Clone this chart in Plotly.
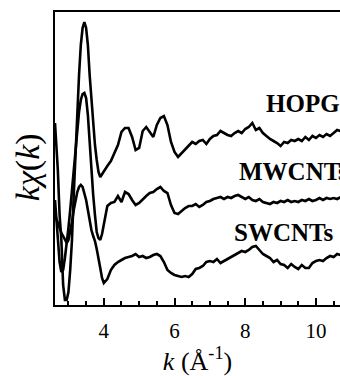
import plotly.graph_objects as go

# wavenumber grid (Å^-1)
k = [2.62, 2.65, 2.70, 2.75, 2.80, 2.85, 2.90, 2.95, 3.00, 3.05, 3.10, 3.15, 3.20, 3.25,
     3.30, 3.35, 3.40, 3.45, 3.50, 3.55, 3.60, 3.65, 3.70, 3.75, 3.80, 3.85, 3.90, 3.95, 4.00,
     4.1, 4.2, 4.3, 4.4, 4.5, 4.6, 4.7, 4.8, 4.9, 5.0, 5.1, 5.2, 5.3, 5.4, 5.5, 5.6, 5.7,
     5.8, 5.9, 6.0, 6.1, 6.2, 6.3, 6.4, 6.5, 6.6, 6.7, 6.8, 6.9, 7.0, 7.1, 7.2, 7.3, 7.4,
     7.5, 7.6, 7.7, 7.8, 7.9, 8.0, 8.1, 8.2, 8.3, 8.4, 8.5, 8.6, 8.7, 8.8, 8.9, 9.0, 9.1,
     9.2, 9.3, 9.4, 9.5, 9.6, 9.7, 9.8, 9.9, 10.0, 10.1, 10.2, 10.3, 10.4, 10.5, 10.6, 10.7]

# k*chi(k), vertically offset (arbitrary units)
hopg = [1.82, 1.65, 1.35, 0.90, 0.65, 0.20, 0.05, 0.05, 0.13, 0.35, 0.65, 1.10, 1.45, 1.90,
        2.30, 2.60, 2.77, 2.83, 2.77, 2.60, 2.30, 2.05, 1.85, 1.60, 1.45, 1.33, 1.28, 1.31, 1.34,
        1.39, 1.44, 1.52, 1.60, 1.73, 1.77, 1.77, 1.68, 1.55, 1.57, 1.74, 1.78, 1.73, 1.68,
        1.80, 1.87, 1.89, 1.80, 1.63, 1.53, 1.48, 1.52, 1.55, 1.59, 1.63, 1.61, 1.64, 1.65,
        1.61, 1.66, 1.69, 1.70, 1.74, 1.72, 1.70, 1.69, 1.72, 1.74, 1.72, 1.76, 1.78, 1.82,
        1.75, 1.77, 1.72, 1.69, 1.66, 1.64, 1.62, 1.59, 1.63, 1.62, 1.65, 1.64, 1.66, 1.64,
        1.68, 1.65, 1.69, 1.67, 1.70, 1.68, 1.71, 1.69, 1.72, 1.75, 1.74]

mwcnt = [1.05, 0.90, 0.65, 0.43, 0.33, 0.35, 0.47, 0.60, 0.77, 0.95, 1.15, 1.37, 1.55, 1.75,
         1.93, 2.05, 2.11, 2.12, 2.07, 1.90, 1.60, 1.33, 1.10, 0.90, 0.73, 0.67, 0.65, 0.71, 0.80,
         0.99, 1.02, 1.03, 1.09, 1.03, 1.13, 1.11, 1.05, 1.00, 1.02, 1.06, 1.09, 1.12, 1.13,
         1.16, 1.18, 1.14, 1.12, 1.00, 0.92, 0.91, 0.94, 0.97, 0.99, 0.99, 1.01, 0.98, 1.00,
         1.03, 1.04, 1.06, 1.07, 1.08, 1.06, 1.08, 1.07, 1.09, 1.10, 1.08, 1.06, 1.08, 1.05,
         1.04, 1.06, 1.03, 1.02, 1.01, 1.03, 1.02, 1.04, 1.03, 1.05, 1.03, 1.04, 1.03, 1.05,
         1.04, 1.06, 1.04, 1.05, 1.07, 1.05, 1.07, 1.06, 1.07, 1.06, 1.08]

swcnt = [0.90, 0.87, 0.80, 0.75, 0.72, 0.69, 0.65, 0.62, 0.65, 0.73, 0.83, 0.95, 1.05, 1.13,
         1.18, 1.20, 1.18, 1.12, 1.05, 0.95, 0.83, 0.75, 0.69, 0.64, 0.56, 0.48, 0.37, 0.27, 0.22,
         0.26, 0.35, 0.40, 0.43, 0.45, 0.47, 0.48, 0.49, 0.51, 0.48, 0.49, 0.47, 0.48, 0.50,
         0.51, 0.49, 0.43, 0.35, 0.32, 0.30, 0.29, 0.28, 0.29, 0.28, 0.31, 0.36, 0.37, 0.39,
         0.43, 0.44, 0.43, 0.46, 0.42, 0.44, 0.46, 0.48, 0.50, 0.52, 0.54, 0.53, 0.55, 0.58,
         0.59, 0.55, 0.51, 0.49, 0.47, 0.43, 0.45, 0.41, 0.40, 0.37, 0.41, 0.38, 0.36, 0.40,
         0.37, 0.37, 0.42, 0.44, 0.45, 0.44, 0.47, 0.49, 0.48, 0.51, 0.50]

labels = ["HOPG", "MWCNTs", "SWCNTs"]
label_k = [8.54, 7.78, 7.63]
label_y = [2.02, 1.34, 0.73]
xtick_vals = [4, 6, 8, 10]

SERIF = "Liberation Serif, Times New Roman, serif"

fig = go.Figure()
for name, ys in zip(labels, [hopg, mwcnt, swcnt]):
    fig.add_trace(go.Scatter(x=k, y=ys, mode="lines", name=name,
                             line=dict(color="black", width=2.6), showlegend=False))

for name, lk, ly in zip(labels, label_k, label_y):
    fig.add_annotation(x=lk, y=ly, xref="x", yref="y", text="<b>%s</b>" % name,
                       showarrow=False, xanchor="left", yanchor="middle",
                       font=dict(family=SERIF, size=25, color="black"))

# y-axis title placed as rotated text
fig.add_annotation(x=-0.095, y=0.47, xref="paper", yref="paper",
                   text="<i>kχ</i>(<i>k</i>)", textangle=-90, showarrow=False,
                   xanchor="center", yanchor="middle",
                   font=dict(family=SERIF, size=34, color="black"))

fig.update_layout(
    width=340, height=376,
    margin=dict(l=55, r=0, t=12, b=71),
    paper_bgcolor="white", plot_bgcolor="white",
    font=dict(family=SERIF, color="black"),
    xaxis=dict(range=[2.62, 10.68], showline=True, linecolor="black", linewidth=2,
               mirror=True, showgrid=False, zeroline=False,
               tickmode="array", tickvals=xtick_vals,
               ticks="inside", ticklen=7, tickwidth=1.5, tickcolor="black",
               ticklabelstandoff=6,
               tickfont=dict(family=SERIF, size=21, color="black"),
               minor=dict(dtick=0.5, tick0=0, ticks="inside", ticklen=4, tickwidth=1.5,
                          tickcolor="black", showgrid=False),
               title=dict(text="<i>k</i> (Å<sup>-1</sup>)",
                          font=dict(family=SERIF, size=26, color="black"), standoff=4)),
    yaxis=dict(range=[0, 2.93], showline=True, linecolor="black", linewidth=2,
               mirror=False, showgrid=False, zeroline=False, showticklabels=False,
               ticks=""),
)

fig.write_html("out.html")
